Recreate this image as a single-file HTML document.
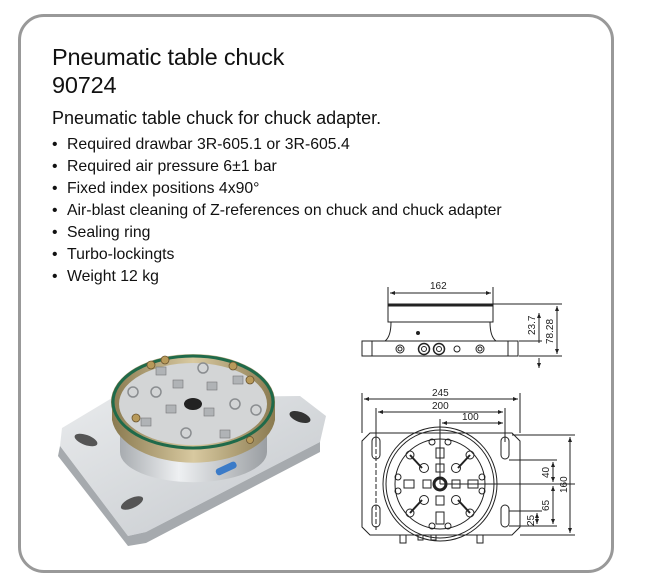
<!DOCTYPE html>
<html><head><meta charset="utf-8"><style>
html,body{margin:0;padding:0;background:#fff;}
body{width:660px;height:586px;position:relative;overflow:hidden;font-family:"Liberation Sans",sans-serif;color:#111;}
.frame{position:absolute;left:18px;top:14px;width:590px;height:553px;border:3px solid #999;border-radius:26px;}
.t{position:absolute;left:52px;font-size:23.5px;line-height:28px;letter-spacing:-0.2px;}
.d{position:absolute;left:52px;top:108px;font-size:18px;}
ul{position:absolute;left:52px;top:134px;margin:0;padding:0;list-style:none;font-size:15.8px;line-height:22px;}
ul li:before{content:"•";display:inline-block;width:15px;}
</style></head><body>
<div class="frame"></div>
<div class="t" style="top:43px">Pneumatic table chuck</div>
<div class="t" style="top:71px">90724</div>
<div class="d">Pneumatic table chuck for chuck adapter.</div>
<ul>
<li>Required drawbar 3R-605.1 or 3R-605.4</li>
<li>Required air pressure 6±1 bar</li>
<li>Fixed index positions 4x90°</li>
<li>Air-blast cleaning of Z-references on chuck and chuck adapter</li>
<li>Sealing ring</li>
<li>Turbo-lockingts</li>
<li>Weight 12 kg</li>
</ul>
<svg width="660" height="586" style="position:absolute;left:0;top:0" font-family="Liberation Sans, sans-serif">
<defs>
<linearGradient id="pl" x1="0" y1="0" x2="1" y2="1"><stop offset="0" stop-color="#e8eaec"/><stop offset="1" stop-color="#c4c8cc"/></linearGradient>
<linearGradient id="cy" x1="0" y1="0" x2="1" y2="0"><stop offset="0" stop-color="#a8acb0"/><stop offset=".4" stop-color="#eef0f2"/><stop offset="1" stop-color="#9a9ea2"/></linearGradient>
<linearGradient id="br" x1="0" y1="0" x2="1" y2="0"><stop offset="0" stop-color="#8a7a50"/><stop offset=".5" stop-color="#d8c9a0"/><stop offset="1" stop-color="#8a7a50"/></linearGradient>
<marker id="a" markerWidth="6" markerHeight="6" refX="5" refY="3" orient="auto-start-reverse"><path d="M0,1 L5,3 L0,5z" fill="#222"/></marker>
</defs>
<!-- photo -->
<polygon points="62,428 112,398 300,396 326,416 320,442 146,532 128,536 60,446" fill="url(#pl)"/>
<polygon points="60,446 128,536 146,532 320,442 320,452 146,543 128,546 58,456" fill="#a6aaae"/>
<ellipse cx="86" cy="440" rx="12" ry="5" fill="#555" transform="rotate(20 86 440)"/>
<ellipse cx="132" cy="503" rx="12" ry="5" fill="#555" transform="rotate(-25 132 503)"/>
<ellipse cx="300" cy="417" rx="11" ry="5" fill="#333" transform="rotate(20 300 417)"/>
<path d="M120,410 L120,452 A73,30 0 0 0 267,452 L267,410z" fill="url(#cy)"/>
<path d="M112,402 L112,420 A82,48 0 0 0 275,420 L275,402z" fill="url(#br)"/>
<ellipse cx="193" cy="402" rx="82" ry="48" fill="url(#br)"/>
<ellipse cx="193" cy="402" rx="80" ry="46" fill="none" stroke="#1f6a4a" stroke-width="3"/>
<ellipse cx="193" cy="404" rx="74" ry="41" fill="#d3d5d6"/>
<ellipse cx="193" cy="404" rx="9" ry="6" fill="#222"/>
<g fill="#b0b3b6" stroke="#777" stroke-width=".6">
<rect x="173" y="380" width="10" height="8"/><rect x="207" y="382" width="10" height="8"/>
<rect x="166" y="405" width="10" height="8"/><rect x="204" y="408" width="10" height="8"/>
<rect x="156" y="367" width="10" height="8"/><rect x="233" y="376" width="10" height="8"/>
<rect x="141" y="418" width="10" height="8"/><rect x="220" y="430" width="10" height="8"/>
</g>
<g fill="#b89a5a" stroke="#6a5530" stroke-width=".8">
<circle cx="151" cy="365" r="4"/><circle cx="165" cy="360" r="4"/><circle cx="233" cy="366" r="4"/><circle cx="250" cy="380" r="4"/><circle cx="136" cy="418" r="4"/><circle cx="250" cy="440" r="3.5"/>
</g>
<g fill="none" stroke="#8a8d90" stroke-width="1.5">
<circle cx="203" cy="368" r="5"/><circle cx="133" cy="392" r="5"/><circle cx="156" cy="392" r="5"/><circle cx="235" cy="404" r="5"/><circle cx="256" cy="410" r="5"/><circle cx="186" cy="433" r="5"/>
</g>
<rect x="215" y="465" width="22" height="7" rx="3" fill="#3b7bc8" transform="rotate(-25 226 468)"/>
<!-- side view -->
<g stroke="#222" fill="none" stroke-width="1">
<line x1="388" y1="287" x2="388" y2="305"/><line x1="493" y1="287" x2="493" y2="305"/>
<line x1="390" y1="293" x2="491" y2="293" marker-start="url(#a)" marker-end="url(#a)"/>
<rect x="388" y="304" width="105" height="18"/>
<line x1="388" y1="305.5" x2="493" y2="305.5" stroke-width="2"/>
<path d="M391,322 C391,332 389,338 385,341 M490,322 C490,332 492,338 496,341"/>
<rect x="362" y="341" width="156" height="15"/>
<line x1="372" y1="341" x2="372" y2="356"/><line x1="508" y1="341" x2="508" y2="356"/>
<line x1="493" y1="304" x2="562" y2="304"/><line x1="519" y1="341" x2="542" y2="341"/><line x1="519" y1="356" x2="562" y2="356"/>
<line x1="539" y1="343" x2="539" y2="313" marker-end="url(#a)"/><line x1="539" y1="358" x2="539" y2="368" marker-end="url(#a)"/>
<line x1="557" y1="306" x2="557" y2="354" marker-start="url(#a)" marker-end="url(#a)"/>
<circle cx="400" cy="349" r="4"/><circle cx="400" cy="349" r="2"/>
<circle cx="424" cy="349" r="5.5" stroke-width="1.5"/><circle cx="424" cy="349" r="2.5"/>
<circle cx="439" cy="349" r="5.5" stroke-width="1.5"/><circle cx="439" cy="349" r="2.5"/>
<circle cx="457" cy="349" r="3"/>
<circle cx="480" cy="349" r="4"/><circle cx="480" cy="349" r="2"/>
<circle cx="418" cy="333" r="1.5" fill="#222"/>
</g>
<g font-size="10" fill="#222">
<text x="430" y="289">162</text>
<text transform="translate(535,335) rotate(-90)">23.7</text>
<text transform="translate(553,344) rotate(-90)">78.28</text>
</g>
<!-- plan view -->
<g stroke="#222" fill="none" stroke-width="1">
<line x1="362" y1="393" x2="362" y2="433"/><line x1="520" y1="393" x2="520" y2="433"/>
<line x1="364" y1="399" x2="518" y2="399" marker-start="url(#a)" marker-end="url(#a)"/>
<line x1="376" y1="408" x2="376" y2="442"/><line x1="505" y1="408" x2="505" y2="442"/>
<line x1="378" y1="412" x2="503" y2="412" marker-start="url(#a)" marker-end="url(#a)"/>
<line x1="440" y1="419" x2="440" y2="484"/>
<line x1="442" y1="423" x2="503" y2="423" marker-start="url(#a)" marker-end="url(#a)"/>
<path d="M370,433 L512,433 L520,441 L520,527 L512,535 L370,535 L362,527 L362,441z"/>
<rect x="372" y="437" width="8" height="22" rx="4"/><rect x="372" y="505" width="8" height="22" rx="4"/>
<rect x="501" y="437" width="8" height="22" rx="4"/><rect x="501" y="505" width="8" height="22" rx="4"/>
<line x1="376" y1="435" x2="376" y2="530" stroke-dasharray="5,2"/>
<circle cx="440" cy="484" r="57"/><circle cx="440" cy="484" r="54"/><circle cx="440" cy="484" r="45"/>
<circle cx="440" cy="484" r="6" stroke-width="3"/>
<line x1="440" y1="484" x2="575" y2="484"/>
<rect x="436" y="448" width="8" height="10"/><rect x="436" y="464" width="8" height="8"/><rect x="436" y="496" width="8" height="9"/><rect x="436" y="512" width="8" height="12"/>
<rect x="404" y="480" width="10" height="8"/><rect x="423" y="480" width="8" height="8"/><rect x="452" y="480" width="8" height="8"/><rect x="468" y="480" width="10" height="8"/>
<circle cx="432" cy="442" r="3"/><circle cx="448" cy="442" r="3"/><circle cx="432" cy="526" r="3"/><circle cx="448" cy="526" r="3"/>
<circle cx="398" cy="477" r="3"/><circle cx="398" cy="491" r="3"/><circle cx="482" cy="477" r="3"/><circle cx="482" cy="491" r="3"/>
<g stroke-width="2">
<path d="M410,455 L422,468" /><path d="M470,455 L458,468"/><path d="M410,513 L422,500"/><path d="M470,513 L458,500"/>
</g>
<circle cx="410" cy="455" r="4"/><circle cx="424" cy="468" r="4.5"/><circle cx="470" cy="455" r="4"/><circle cx="456" cy="468" r="4.5"/>
<circle cx="410" cy="513" r="4"/><circle cx="424" cy="500" r="4.5"/><circle cx="470" cy="513" r="4"/><circle cx="456" cy="500" r="4.5"/>
<rect x="400" y="535" width="6" height="8"/><rect x="418" y="535" width="5" height="5"/><rect x="431" y="535" width="5" height="5"/><rect x="477" y="535" width="6" height="8"/>
<line x1="509" y1="460" x2="557" y2="460"/><line x1="509" y1="511" x2="542" y2="511"/><line x1="509" y1="526" x2="557" y2="526"/><line x1="512" y1="435" x2="575" y2="435"/><line x1="520" y1="535" x2="575" y2="535"/>
<line x1="553" y1="462" x2="553" y2="482" marker-start="url(#a)" marker-end="url(#a)"/>
<line x1="553" y1="486" x2="553" y2="524" marker-start="url(#a)" marker-end="url(#a)"/>
<line x1="537" y1="513" x2="537" y2="524" marker-start="url(#a)" marker-end="url(#a)"/>
<line x1="570" y1="437" x2="570" y2="533" marker-start="url(#a)" marker-end="url(#a)"/>
</g>
<g font-size="10" fill="#222">
<text x="432" y="396">245</text><text x="432" y="409">200</text><text x="462" y="420">100</text>
<text transform="translate(549,478) rotate(-90)">40</text>
<text transform="translate(549,511) rotate(-90)">65</text>
<text transform="translate(534,526) rotate(-90)">25</text>
<text transform="translate(567,493) rotate(-90)">160</text>
</g>
</svg>
</body></html>
